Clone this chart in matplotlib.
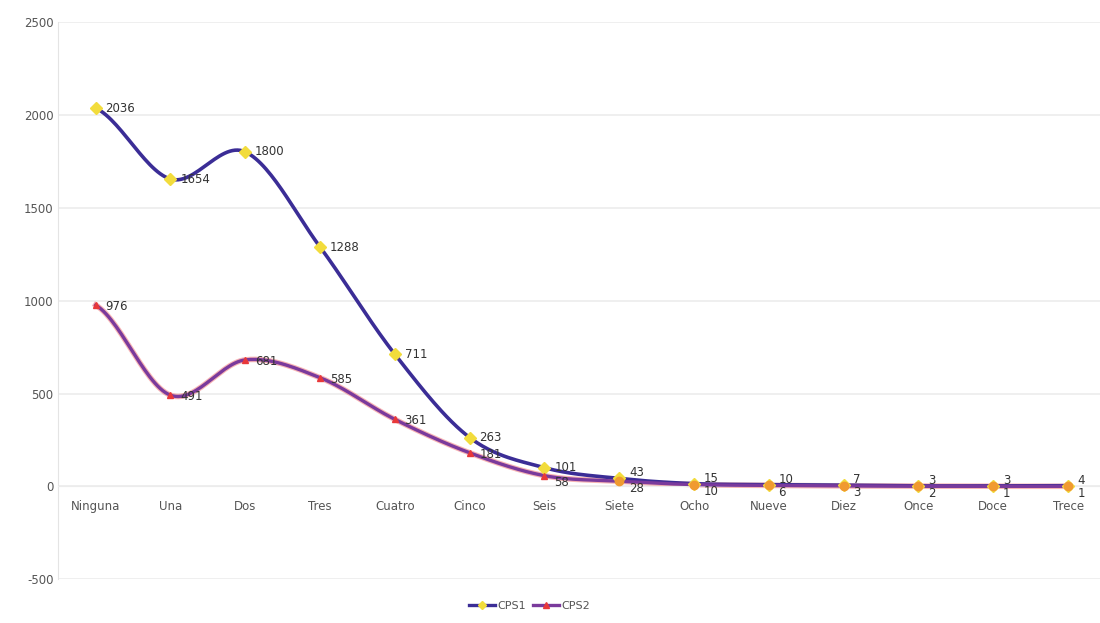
import numpy as np
import matplotlib.pyplot as plt

plt.rcParams["axes.unicode_minus"] = False

categorias = ["Ninguna", "Una", "Dos", "Tres", "Cuatro", "Cinco", "Seis",
              "Siete", "Ocho", "Nueve", "Diez", "Once", "Doce", "Trece"]
cps1 = [2036, 1654, 1800, 1288, 711, 263, 101, 43, 15, 10, 7, 3, 3, 4]
cps2 = [976, 491, 681, 585, 361, 181, 58, 28, 10, 6, 3, 2, 1, 1]


def suavizar(x, y, n=30):
    # curva tipo "linea suavizada" (Catmull-Rom) entre los puntos
    x = np.asarray(x, float)
    y = np.asarray(y, float)
    px = np.concatenate([[2 * x[0] - x[1]], x, [2 * x[-1] - x[-2]]])
    py = np.concatenate([[y[0]], y, [y[-1]]])
    xs, ys = [], []
    t = np.linspace(0, 1, n)
    for i in range(1, len(px) - 2):
        for p, out in ((px, xs), (py, ys)):
            p0, p1, p2, p3 = p[i - 1], p[i], p[i + 1], p[i + 2]
            out.extend(0.5 * (2 * p1 + (-p0 + p2) * t
                              + (2 * p0 - 5 * p1 + 4 * p2 - p3) * t ** 2
                              + (-p0 + 3 * p1 - 3 * p2 + p3) * t ** 3))
    return np.array(xs), np.array(ys)


x = np.arange(len(categorias))
fig, ax = plt.subplots(figsize=(11, 6.23), dpi=100)
fig.subplots_adjust(left=0.053, right=1.005, top=0.965, bottom=0.07)

sx, sy = suavizar(x, cps1)
ax.plot(sx, sy, color="#3b2d96", lw=2.6, zorder=3)
ax.plot(x, cps1, ls="none", marker="D", ms=6, color="#f2dc3c", zorder=4)

sx, sy = suavizar(x, cps2)
ax.plot(sx, sy, color="#f06a6a", lw=4.0, alpha=0.5, zorder=2)
ax.plot(sx, sy, color="#7a3a9c", lw=2.4, zorder=3)
ax.plot(x[:7], cps2[:7], ls="none", marker="^", ms=5, color="#e8383a", zorder=4)
ax.plot(x[7:], cps2[7:], ls="none", marker="o", ms=6, color="#f09a30", zorder=4)

for i, (xi, v) in enumerate(zip(x, cps1)):
    dy = 4 if i >= 7 else 0
    ax.annotate(str(v), (xi, v), xytext=(7, dy), textcoords="offset points",
                va="center", ha="left", fontsize=8.5, color="#333333", zorder=5)
for i, (xi, v) in enumerate(zip(x, cps2)):
    dy = -5 if i >= 6 else -1
    ax.annotate(str(v), (xi, v), xytext=(7, dy), textcoords="offset points",
                va="center", ha="left", fontsize=8.5, color="#333333", zorder=5)

# leyenda
ax.plot([], [], color="#3b2d96", lw=2.4, marker="D", ms=4,
        mfc="#f2dc3c", mec="#f2dc3c", label="CPS1")
ax.plot([], [], color="#7a3a9c", lw=2.4, marker="^", ms=4,
        mfc="#e8383a", mec="#e8383a", label="CPS2")
ax.legend(loc="upper center", bbox_to_anchor=(0.45, -0.02), ncol=2,
          frameon=False, fontsize=8, handlelength=2.4, columnspacing=0.6,
          handletextpad=0.2, labelcolor="#555555")

ax.set_xlim(-0.5, 13.5)
ax.set_ylim(-500, 2500)
ax.set_yticks(range(-500, 2501, 500))
ax.set_xticks(x)
ax.set_xticklabels(categorias)
ax.tick_params(axis="both", length=0, labelsize=8.5, colors="#555555")
ax.tick_params(axis="x", pad=10)
ax.grid(axis="y", color="#ececec", lw=1.2)
ax.set_axisbelow(True)
for s in ["top", "right"]:
    ax.spines[s].set_visible(False)
ax.spines["bottom"].set_position(("data", 0))
ax.spines["bottom"].set_color("#ececec")
ax.spines["left"].set_color("#e4e4e4")

plt.savefig("out.png", dpi=100)
